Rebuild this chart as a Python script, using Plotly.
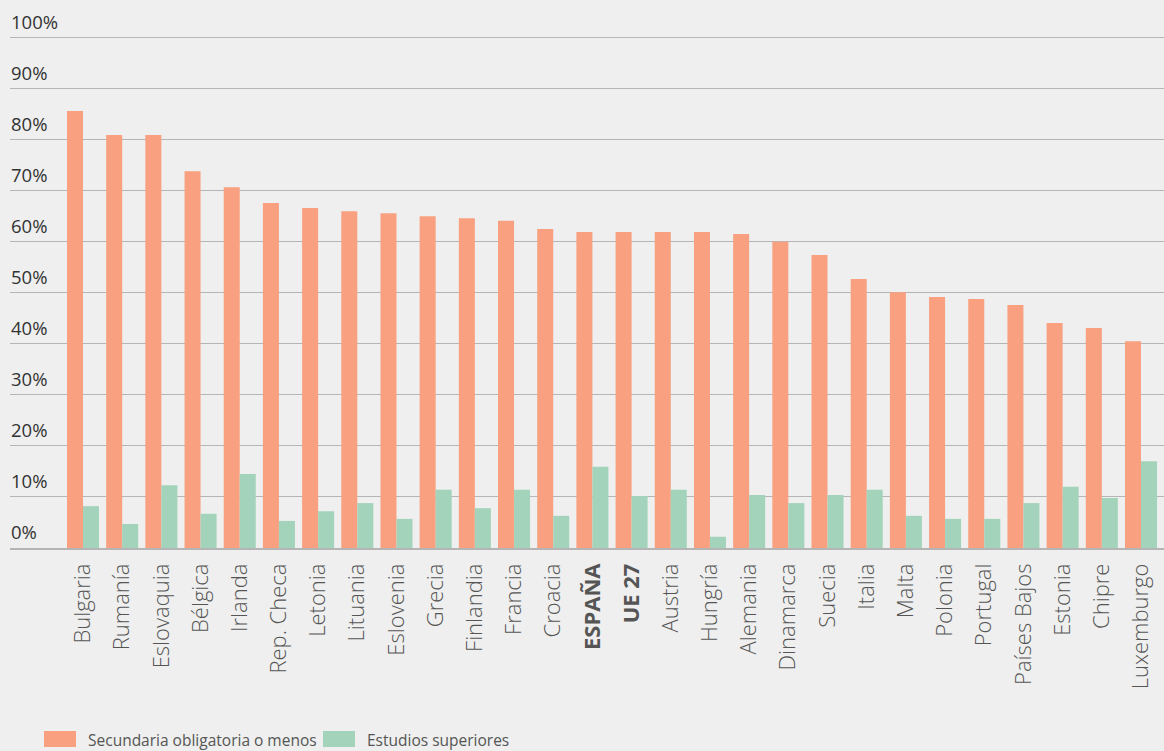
import plotly.graph_objects as go

countries = ["Bulgaria", "Rumanía", "Eslovaquia", "Bélgica", "Irlanda", "Rep. Checa",
             "Letonia", "Lituania", "Eslovenia", "Grecia", "Finlandia", "Francia",
             "Croacia", "ESPAÑA", "UE 27", "Austria", "Hungría", "Alemania",
             "Dinamarca", "Suecia", "Italia", "Malta", "Polonia", "Portugal",
             "Países Bajos", "Estonia", "Chipre", "Luxemburgo"]
secundaria = [85.6, 80.9, 80.9, 73.8, 70.7, 67.6, 66.6, 66.0, 65.6, 65.0, 64.6, 64.1,
              62.5, 61.9, 61.9, 61.9, 61.9, 61.5, 60.0, 57.4, 52.7, 50.1, 49.2, 48.8,
              47.6, 44.1, 43.1, 40.5]
superiores = [8.2, 4.7, 12.3, 6.7, 14.5, 5.3, 7.2, 8.8, 5.7, 11.4, 7.8, 11.4,
              6.3, 15.9, 10.2, 11.4, 2.2, 10.4, 8.8, 10.4, 11.4, 6.3, 5.7, 5.7,
              8.8, 12.0, 9.8, 17.0]
bold_labels = ["ESPAÑA", "UE 27"]
y_ticks = [0, 10, 20, 30, 40, 50, 60, 70, 80, 90, 100]
y_ticktext = [f"{v}%" for v in y_ticks]
series_names = ["Secundaria obligatoria o menos", "Estudios superiores"]

ORANGE = "#F8A07F"
GREEN = "#A3D3BA"
BG = "#EEEFEE"
GRID = "#B5B5B5"

W, H = 1164, 751
L, R, T, B = 10, 0, 7, 203
Y_TOP = 106  # axis top so that 100% sits at ~37px

fig = go.Figure()
fig.add_trace(go.Bar(x=countries, y=secundaria, name=series_names[0],
                     marker=dict(color=ORANGE, line=dict(width=0))))
fig.add_trace(go.Bar(x=countries, y=superiores, name=series_names[1],
                     marker=dict(color=GREEN, line=dict(width=0))))

ticktext = [f"<b>{c}</b>" if c in bold_labels else c for c in countries]

fig.update_layout(
    width=W, height=H,
    margin=dict(l=L, r=R, t=T, b=B, pad=0),
    paper_bgcolor=BG, plot_bgcolor=BG,
    barmode="group", bargap=0.183, bargroupgap=0,
    showlegend=False,
    font=dict(family="Open Sans", color="#444444"),
    xaxis=dict(
        range=[-1.863, 27.587],
        tickmode="array", tickvals=countries, ticktext=ticktext,
        tickangle=-90, ticks="", showgrid=False,
        showline=True, linecolor=GRID, linewidth=1.5,
        tickfont=dict(family="Open Sans", size=22, color="#555555", weight=300),
        ticklabelstandoff=5,
    ),
    yaxis=dict(
        range=[0, Y_TOP],
        tickmode="array", tickvals=y_ticks,
        showgrid=True, gridcolor=GRID, gridwidth=1.3,
        zeroline=False, showline=False, ticks="",
        showticklabels=False,
    ),
)

# y tick labels sitting above each gridline, at the left edge
for v, t in zip(y_ticks, y_ticktext):
    fig.add_annotation(xref="paper", yref="y", x=0, y=v,
                       xanchor="left", yanchor="bottom", showarrow=False,
                       text=t, yshift=2, xshift=-1,
                       font=dict(family="Open Sans", size=18.5, color="#333333"))

# legend drawn as shapes + text (paper coords relative to plot area)
pw = W - L - R
ph = H - T - B


def px2x(p):
    return (p - L) / pw


def py2y(p):
    return (H - B - p) / ph


legend_items = [(44, 76, 86, ORANGE, series_names[0]),
                (323, 355, 365, GREEN, series_names[1])]
for x0, x1, tx, col, name in legend_items:
    fig.add_shape(type="rect", xref="paper", yref="paper",
                  x0=px2x(x0), x1=px2x(x1), y0=py2y(747), y1=py2y(731),
                  fillcolor=col, line=dict(width=0), layer="above")
    fig.add_annotation(xref="paper", yref="paper", x=px2x(tx), y=py2y(740),
                       xanchor="left", yanchor="middle", showarrow=False,
                       text=name,
                       font=dict(family="Open Sans", size=15.5, color="#555555"))

fig.write_html("out.html")
